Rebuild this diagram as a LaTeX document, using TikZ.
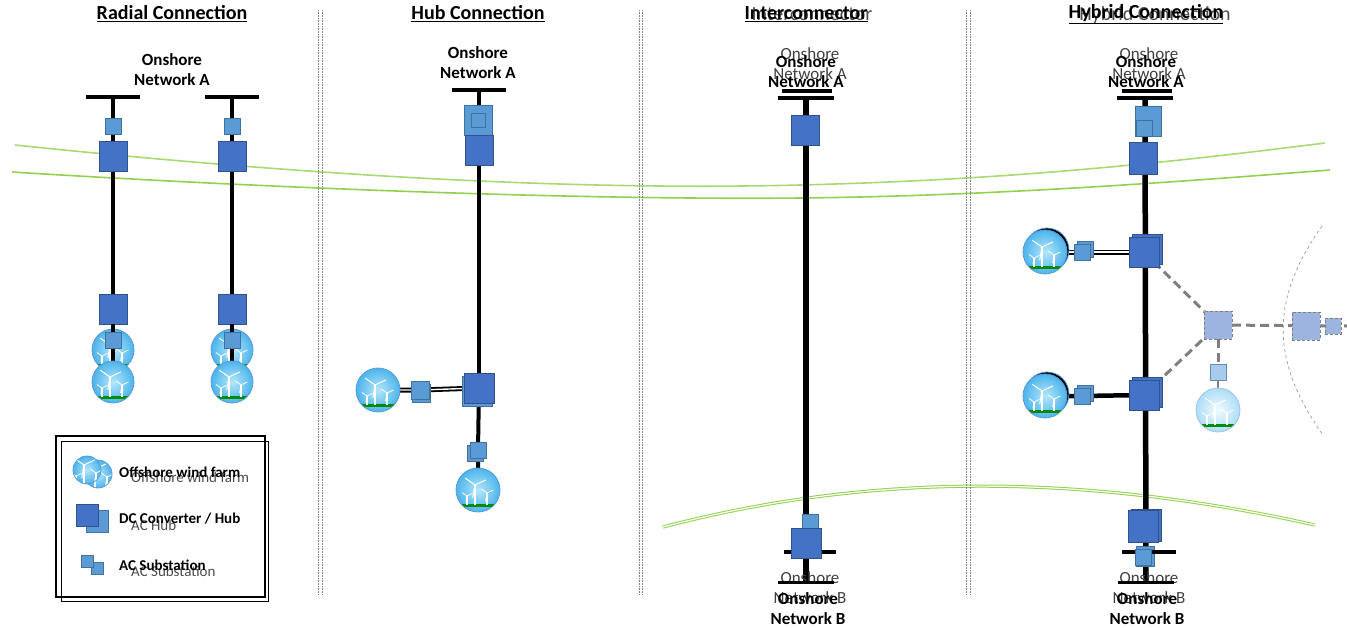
\documentclass[tikz,border=0pt]{standalone}
\usepackage{fontspec}
\setmainfont{Carlito}
\usetikzlibrary{backgrounds,shadows}

\definecolor{dcblue}{HTML}{4472C4}
\definecolor{dcline}{HTML}{2F528F}
\definecolor{acblue}{HTML}{5B9BD5}
\definecolor{acline}{HTML}{41719C}
\definecolor{planblue}{HTML}{9DB3E0}
\definecolor{planacblue}{HTML}{A9CBEB}
\definecolor{planline}{HTML}{7F7F7F}
\definecolor{seagreen}{HTML}{92D050}
\definecolor{farmin}{HTML}{B5E7FB}
\definecolor{farmout}{HTML}{4CB4EC}
\definecolor{farmline}{HTML}{5B9BD5}

\tikzset{
  dc/.style={rectangle, inner sep=0, minimum width=28pt, minimum height=30pt,
    fill=dcblue, draw=dcline, line width=0.8pt},
  ac/.style={rectangle, inner sep=0, minimum size=#1, fill=acblue, draw=acline, line width=0.8pt},
  ac/.default=16pt,
  plannedbox/.style={rectangle, inner sep=0, minimum size=#1, fill=planblue,
    draw=planline, densely dashed, line width=0.7pt},
  plannedbox/.default=28pt,
  bus/.style={rectangle, inner sep=0, minimum width=#1, minimum height=4pt, fill=black},
  bus/.default=54pt,
  farm/.style={circle, inner sep=0, minimum size=#1*1pt, inner color=farmin,
    outer color=farmout, draw=farmline, line width=0.8pt,
    path picture={
      \begin{scope}[shift={(path picture bounding box.center)}, scale=#1/42]
        \fill[green!55!black] (-22,14) rectangle (22,17);
        \draw[white, line width=1.3pt] (-3,15) -- (-3,-5) (9,15) -- (9,3) (-11,15) -- (-11,6);
        \draw[white, line width=1pt] (-3,-5) -- ++(100:13) (-3,-5) -- ++(215:12) (-3,-5) -- ++(335:12);
        \draw[white, line width=0.8pt] (9,3) -- ++(100:8) (9,3) -- ++(215:7) (9,3) -- ++(335:7);
        \draw[white, line width=0.8pt] (-11,6) -- ++(100:6) (-11,6) -- ++(215:6) (-11,6) -- ++(335:6);
      \end{scope}}},
  farm/.default=42,
  paleform/.style={inner color=white!80!farmin, outer color=farmout!45!white, draw=farmline!60},
  cable/.style={line width=4.5pt, black},
  acpair/.style={double=white, double distance=1.4pt, line width=1.8pt},
  planned/.style={line width=3pt, planline, dash pattern=on 9pt off 5pt},
  coast/.style={seagreen, line width=1.6pt},
  divider/.style={gray, densely dotted, line width=0.6pt},
  title/.style={font=\bfseries\fontsize{20}{22}\selectfont},
  ghosttitle/.style={font=\fontsize{20}{22}\selectfont, text=black!70},
  site/.style={font=\bfseries\fontsize{17}{20}\selectfont, align=center, inner sep=0},
  ghostsite/.style={font=\fontsize{17}{20}\selectfont, align=center, inner sep=0, text=black!75},
  legendtext/.style={font=\bfseries\fontsize{15}{16}\selectfont, anchor=west, inner sep=0},
  ghostlegend/.style={font=\fontsize{15}{16}\selectfont, anchor=west, inner sep=0, text=black!70},
}

\begin{document}
\begin{tikzpicture}[x=1pt, y=-1pt]
\useasboundingbox (0,0) rectangle (1347,627);

% titles
\node[title] (t-radial) at (172,14) {\underline{Radial Connection}};
\node[title] (t-hub) at (478,14) {\underline{Hub Connection}};
\node[ghosttitle] (t-inter2) at (812,14) {Interconnector};
\node[title] (t-inter) at (806,14) {\underline{Interconnector}};
\node[ghosttitle] (t-hybrid2) at (1155,15) {Hybrid Connection};
\node[title] (t-hybrid) at (1146,14) {\underline{Hybrid Connection}};

% section dividers
\foreach \x in {318,322,639,642,966,970}
  \draw[divider] (\x,10) -- (\x,595);

% radial connection
\node[site] (ra-net) at (172,70) {Onshore\\Network A};
\foreach \n/\x in {1/113,2/232}{
  \node[bus] (ra-bus\n) at (\x,97) {};
  \node[ac] (ra-acon\n) at (\x,126) {};
  \node[dc] (ra-dcon\n) at (\x,156) {};
  \node[dc] (ra-dcoff\n) at (\x,309) {};
  \node[farm] (ra-farma\n) at (\x,350) {};
  \coordinate (ra-tip\n) at (\x,366);
  \draw[cable] (ra-dcoff\n.south) -- (ra-tip\n);
  \node[ac] (ra-acoff\n) at (\x,340) {};
  \node[farm] (ra-farmb\n) at (\x,382) {};
}

% hub connection
\node[site] (hu-net) at (478,63) {Onshore\\Network A};
\node[bus] (hu-bus) at (479,90) {};
\node[ac, minimum width=28pt, minimum height=30pt] (hu-achub) at (478,120) {};
\node[ac=14pt] (hu-acin) at (478,120) {};
\node[dc] (hu-dcon) at (479,150) {};
\node[dc, minimum size=30pt, copy shadow={shadow xshift=-2pt, shadow yshift=-3pt, fill=acblue, draw=acline}] (hu-hub) at (479,388) {};
\node[ac=18pt, copy shadow={shadow xshift=1pt, shadow yshift=-3pt}] (hu-acw) at (420,390) {};
\node[farm=44] (hu-farmw) at (378,390) {};
\node[ac, copy shadow={shadow xshift=-3pt, shadow yshift=-3pt}] (hu-acs) at (478,450) {};
\node[farm=44] (hu-farms) at (478,490) {};

% interconnector
\node[ghostsite] (ic-net2) at (810,64) {Onshore\\Network A};
\node[site] (ic-net) at (806,72) {Onshore\\Network A};
\node[bus=50pt] (ic-busa) at (807,91) {};
\node[bus=56pt] (ic-bus) at (806,98) {};
\node[dc] (ic-dca) at (805,130) {};
\node[ac, minimum width=16pt, minimum height=20pt] (ic-acb) at (810,524) {};
\node[bus=52pt] (ic-busb) at (810,552) {};
\node[dc, minimum size=30pt] (ic-dcb) at (806,543) {};
\node[ghostsite] (ic-netb2) at (810,588) {Onshore\\Network B};
\node[bus=56pt, minimum height=3pt] (ic-bar) at (806,582) {};
\node[site] (ic-netb) at (808,609) {Onshore\\Network B};

% hybrid connection
\node[ghostsite] (hy-net2) at (1149,64) {Onshore\\Network A};
\node[site] (hy-net) at (1146,72) {Onshore\\Network A};
\node[bus=50pt] (hy-busa) at (1147,91) {};
\node[bus=56pt] (hy-bus) at (1145,98) {};
\node[ac, minimum width=26pt, minimum height=30pt] (hy-achub) at (1148,121) {};
\node[ac] (hy-acin) at (1144,128) {};
\node[dc, minimum width=28pt, minimum height=32pt] (hy-dca) at (1143,158) {};
\node[dc, minimum size=30pt, copy shadow={shadow xshift=3pt, shadow yshift=3pt, fill=dcblue, draw=dcline}] (hy-hubn) at (1144,252) {};
\node[dc, minimum size=30pt, copy shadow={shadow xshift=3pt, shadow yshift=3pt, fill=dcblue, draw=dcline}] (hy-hubs) at (1144,395) {};
\node[ac, copy shadow={shadow xshift=3pt, shadow yshift=3pt}] (hy-acn) at (1082,252) {};
\node[ac, copy shadow={shadow xshift=3pt, shadow yshift=3pt}] (hy-acs) at (1082,396) {};
\node[farm=44, copy shadow={shadow xshift=2pt, shadow yshift=2pt, draw=farmline}] (hy-farmn) at (1045,252) {};
\node[farm=44, copy shadow={shadow xshift=2pt, shadow yshift=2pt, draw=farmline}] (hy-farms) at (1045,396) {};
\node[plannedbox] (hy-hub) at (1218,325) {};
\node[plannedbox] (hy-dcf) at (1306,326) {};
\node[plannedbox=16pt] (hy-acf) at (1333,326) {};
\coordinate (hy-end) at (1347,326);
\node[ac, fill=planacblue, draw=acline!80] (hy-acp) at (1218,372) {};
\node[farm=44, paleform] (hy-farmp) at (1218,410) {};
\draw[planline!80, dashed, line width=0.7pt] (1322,226) .. controls (1270,300) and (1270,360) .. (1323,435);
\node[ac, minimum width=18pt, minimum height=20pt] (hy-acb) at (1145,556) {};
\node[bus=54pt] (hy-busb) at (1149,552) {};
\node[dc, minimum width=30pt, minimum height=32pt, copy shadow={shadow xshift=3pt, shadow yshift=1pt, fill=dcblue, draw=dcline}] (hy-dcb) at (1143,526) {};
\node[ac] (hy-acb2) at (1143,557) {};
\node[ghostsite] (hy-netb2) at (1149,588) {Onshore\\Network B};
\node[bus=56pt, minimum height=3pt] (hy-bar) at (1146,582) {};
\node[site] (hy-netb) at (1147,609) {Onshore\\Network B};

% legend
\draw[line width=1.2pt] (56,436) rectangle (265,597);
\draw[line width=1pt] (61,441) rectangle (268,601);
\node[farm=28] (lg-farmb) at (98,474) {};
\node[farm=28] (lg-farma) at (87,470) {};
\node[ac=22pt] (lg-acb) at (97,521) {};
\node[dc, minimum size=22pt] (lg-dc) at (87,515) {};
\node[ac=12pt] (lg-acsb) at (97,568) {};
\node[ac=12pt] (lg-acsa) at (87,561) {};
\node[ghostlegend] (lg-txt1b) at (131,477) {Offshore wind farm};
\node[legendtext] (lg-txt1) at (119,472) {Offshore wind farm};
\node[ghostlegend] (lg-txt2b) at (131,525) {AC Hub};
\node[legendtext] (lg-txt2) at (119,519) {DC Converter / Hub};
\node[ghostlegend] (lg-txt3b) at (131,571) {AC Substation};
\node[legendtext] (lg-txt3) at (119,565) {AC Substation};

\begin{scope}[on background layer]
  % coast lines
  \draw[coast, seagreen!80] (15,145) .. controls (350,180) and (600,190) .. (800,185)
    .. controls (1000,180) and (1150,165) .. (1325,143);
  \draw[coast] (12,172) .. controls (300,190) and (600,200) .. (800,198)
    .. controls (1000,196) and (1200,180) .. (1330,170);
  \draw[coast, double=white, double distance=1.2pt, line width=1pt]
    (663,527) .. controls (850,478) and (1060,468) .. (1315,525);
  % cables
  \foreach \n in {1,2}
    \draw[cable] (ra-bus\n.center) -- (ra-dcoff\n.center);
  \draw[cable] (hu-bus.center) -- (hu-hub.center);
  \draw[acpair] (hu-hub.center) -- (hu-acw.center) -- (hu-farmw.center);
  \draw[cable, line width=4pt] (hu-hub.center) -- (hu-acs.center) -- (hu-farms.center);
  \draw[cable, line width=5.5pt] (ic-bus.center) -- (ic-bar.center);
  \draw[cable, line width=5.5pt] (hy-bus.center) -- (hy-bar.center);
  \draw[acpair] (hy-hubn.center) -- (hy-acn.center) -- (hy-farmn.center);
  \draw[cable] (hy-hubs.center) -- (hy-acs.center) -- (hy-farms.center);
  \draw[planned] (hy-hubn.center) -- (hy-hub.center) -- (hy-hubs.center);
  \draw[planned] (hy-hub.center) -- (hy-end);
  \draw[planned] (hy-hub.center) -- (hy-acp.center);
  \draw[planline, line width=2pt] (hy-acp.center) -- (hy-farmp.center);
\end{scope}
\end{tikzpicture}
\end{document}
